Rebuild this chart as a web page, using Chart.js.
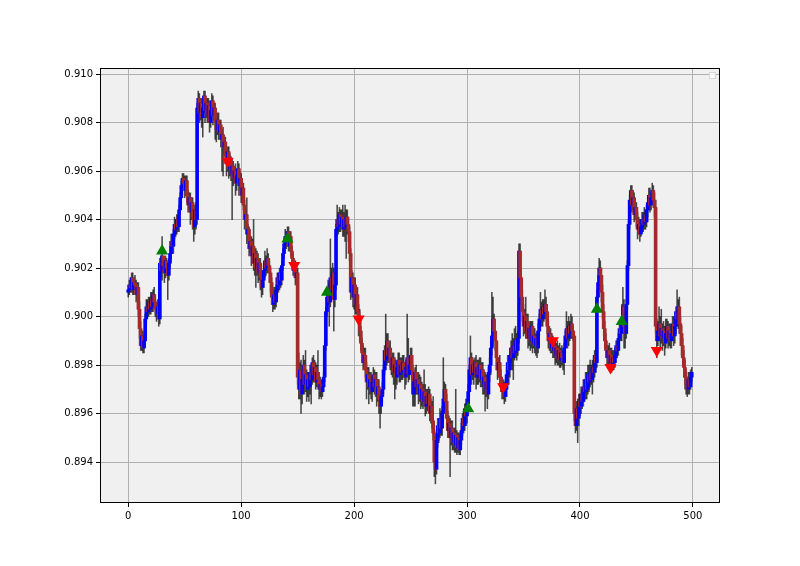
<!DOCTYPE html>
<html>
<head>
<meta charset="utf-8">
<script src="https://cdn.jsdelivr.net/npm/chart.js@4.4.0/dist/chart.umd.min.js"></script>
<style>
  html, body { margin: 0; padding: 0; background: #fff; }
  canvas { display: block; }
</style>
</head>
<body>
<canvas id="candleChart" width="800" height="566"></canvas>
<script>
// close of every bar (bar i opens at the close of bar i-1)
const closes = [
  .9011,.9013,.9012,.9016,.9011,.9014,.9013,.9009,.9012,.9003,
  .8995,.8988,.8992,.8987,.8990,.8999,.9004,.9002,.9006,.9003,
  .9007,.9004,.9009,.9006,.9003,.9001,.9004,.8999,.9022,.9019,
  .9025,.9021,.9018,.9023,.9020,.9017,.9022,.9026,.9031,.9029,
  .9034,.9038,.9036,.9040,.9037,.9044,.9049,.9054,.9057,.9055,
  .9052,.9056,.9050,.9046,.9049,.9043,.9047,.9041,.9037,.9044,
  .9040,.9086,.9090,.9084,.9088,.9082,.9086,.9091,.9085,.9088,
  .9083,.9087,.9080,.9085,.9089,.9083,.9086,.9080,.9077,.9081,
  .9076,.9079,.9073,.9075,.9070,.9072,.9066,.9063,.9068,.9061,
  .9064,.9059,.9062,.9057,.9060,.9055,.9058,.9061,.9054,.9057,
  .9050,.9053,.9046,.9040,.9042,.9034,.9036,.9028,.9031,.9025,
  .9029,.9022,.9026,.9020,.9024,.9018,.9022,.9016,.9012,.9015,
  .9019,.9023,.9020,.9024,.9021,.9018,.9014,.9008,.9005,.9009,
  .9006,.9011,.9016,.9013,.9018,.9015,.9021,.9026,.9030,.9033,
  .9031,.9035,.9029,.9033,.9027,.9024,.9019,.9021,.9016,.9018,
  .8975,.8970,.8978,.8968,.8974,.8980,.8972,.8976,.8970,.8974,
  .8971,.8977,.8974,.8981,.8976,.8979,.8973,.8977,.8974,.8970,
  .8972,.8969,.8971,.8975,.8988,.9002,.9008,.9012,.9006,.9016,
  .9011,.9018,.9007,.9013,.9036,.9040,.9037,.9042,.9038,.9041,
  .9036,.9040,.9037,.9041,.9038,.9035,.9026,.9010,.9016,.9008,
  .9013,.9005,.9009,.9002,.9000,.8994,.8989,.8985,.8981,.8984,
  .8978,.8973,.8976,.8971,.8974,.8969,.8973,.8976,.8971,.8974,
  .8968,.8971,.8966,.8963,.8967,.8970,.8978,.8986,.8982,.8990,
  .8984,.8987,.8981,.8979,.8983,.8977,.8980,.8975,.8979,.8982,
  .8976,.8980,.8977,.8981,.8978,.8975,.8979,.8983,.8976,.8980,
  .8984,.8978,.8968,.8973,.8977,.8971,.8974,.8968,.8972,.8966,
  .8970,.8965,.8969,.8963,.8967,.8964,.8968,.8960,.8963,.8957,
  .8952,.8940,.8937,.8949,.8955,.8952,.8958,.8954,.8960,.8966,
  .8970,.8965,.8958,.8953,.8956,.8950,.8954,.8948,.8952,.8947,
  .8951,.8946,.8950,.8945,.8949,.8953,.8958,.8955,.8962,.8959,
  .8964,.8969,.8978,.8983,.8976,.8980,.8977,.8981,.8975,.8979,
  .8976,.8980,.8974,.8978,.8972,.8975,.8970,.8973,.8968,.8977,
  .8980,.8987,.8992,.8999,.8994,.8990,.8983,.8978,.8981,.8975,
  .8972,.8969,.8971,.8967,.8970,.8976,.8981,.8978,.8984,.8987,
  .8983,.8988,.8985,.8990,.8986,.8991,.9027,.9016,.9008,.9002,
  .8996,.9000,.8994,.8998,.8991,.8995,.8990,.8996,.8989,.8992,
  .8988,.8991,.8987,.8994,.8999,.9003,.8999,.9004,.9001,.9005,
  .9002,.8996,.8990,.8993,.8987,.8990,.8986,.8988,.8984,.8987,
  .8983,.8986,.8982,.8985,.8983,.8981,.8987,.8992,.8995,.8991,
  .8996,.8993,.8997,.8994,.8992,.8960,.8955,.8962,.8958,.8965,
  .8963,.8968,.8965,.8971,.8969,.8974,.8970,.8976,.8973,.8977,
  .8974,.8979,.8977,.8984,.8981,.9008,.9014,.9020,.9017,.9010,
  .9002,.8995,.8990,.8986,.8983,.8986,.8981,.8984,.8980,.8983,
  .8981,.8984,.8988,.8986,.8991,.8995,.8993,.8999,.9004,.8996,
  .8993,.9005,.9021,.9038,.9048,.9052,.9046,.9049,.9042,.9045,
  .9040,.9036,.9038,.9034,.9037,.9040,.9038,.9042,.9039,.9044,
  .9047,.9050,.9046,.9049,.9052,.9048,.9045,.8996,.8990,.8994,
  .8997,.8992,.8995,.8991,.8994,.8989,.8993,.8996,.8991,.8994,
  .8990,.8993,.8997,.8992,.8996,.9002,.8999,.9004,.8997,.8993,
  .8988,.8983,.8979,.8975,.8972,.8970,.8974,.8971,.8975,.8977
];

const highs = [
  .9013,.9015,.9016,.9018,.9018,.9016,.9017,.9015,.9014,.9014,
  .9006,.8998,.8994,.8994,.8992,.9001,.9007,.9007,.9008,.9008,
  .9010,.9010,.9011,.9012,.9009,.9006,.9007,.9006,.9024,.9025,
  .9033,.9024,.9022,.9025,.9024,.9022,.9024,.9029,.9034,.9034,
  .9036,.9041,.9040,.9042,.9042,.9046,.9051,.9056,.9059,.9059,
  .9058,.9058,.9058,.9052,.9051,.9051,.9049,.9049,.9043,.9046,
  .9047,.9088,.9093,.9092,.9090,.9090,.9088,.9093,.9093,.9090,
  .9090,.9090,.9089,.9087,.9092,.9091,.9088,.9088,.9083,.9084,
  .9084,.9081,.9081,.9077,.9078,.9074,.9074,.9068,.9070,.9070,
  .9067,.9066,.9065,.9064,.9062,.9063,.9060,.9064,.9063,.9060,
  .9059,.9056,.9055,.9048,.9044,.9049,.9038,.9037,.9033,.9033,
  .9032,.9040,.9028,.9028,.9027,.9026,.9024,.9024,.9019,.9018,
  .9021,.9027,.9025,.9028,.9026,.9023,.9020,.9016,.9011,.9012,
  .9012,.9013,.9018,.9018,.9020,.9020,.9023,.9028,.9032,.9036,
  .9035,.9037,.9037,.9035,.9035,.9029,.9026,.9023,.9023,.9020,
  .9020,.8985,.8981,.8982,.8977,.8984,.8982,.8986,.8978,.8977,
  .8977,.8980,.8979,.8983,.8984,.8982,.8981,.8980,.8986,.8977,
  .8975,.8974,.8974,.8977,.8990,.9004,.9010,.9015,.9014,.9032,
  .9020,.9022,.9020,.9016,.9038,.9046,.9043,.9045,.9044,.9044,
  .9046,.9043,.9046,.9044,.9044,.9041,.9037,.9028,.9019,.9018,
  .9016,.9016,.9012,.9012,.9005,.9003,.8996,.8991,.8988,.8987,
  .8987,.8981,.8979,.8979,.8977,.8977,.8975,.8979,.8978,.8977,
  .8977,.8974,.8974,.8969,.8969,.8973,.8980,.8988,.9001,.8993,
  .8993,.8989,.8990,.8984,.8985,.8985,.8983,.8982,.8981,.8985,
  .8985,.8983,.8983,.8984,.8984,.8981,.8982,.9001,.8991,.8983,
  .8987,.8987,.8980,.8976,.8979,.8980,.8977,.8977,.8976,.8975,
  .8973,.8972,.8978,.8972,.8970,.8970,.8971,.8970,.8966,.8965,
  .8967,.8955,.8942,.8953,.8958,.8958,.8962,.8961,.8963,.8983,
  .8973,.8972,.8968,.8961,.8959,.8958,.8957,.8957,.8954,.8954,
  .8970,.8953,.8952,.8952,.8951,.8956,.8960,.8960,.8964,.8966,
  .8966,.8972,.8980,.8992,.8985,.8983,.8982,.8983,.8984,.8982,
  .8982,.8983,.8983,.8981,.8981,.8978,.8977,.8976,.8976,.8979,
  .8983,.8990,.9010,.9008,.9001,.8993,.8987,.8982,.8983,.8984,
  .8978,.8975,.8974,.8973,.8974,.8979,.8984,.8984,.8987,.8990,
  .8993,.8991,.8995,.8996,.8993,.8994,.9030,.9030,.9019,.9011,
  .9005,.9003,.9008,.9001,.9001,.8997,.8998,.8998,.8998,.8995,
  .8995,.8993,.8994,.8997,.9001,.9010,.9006,.9007,.9007,.9011,
  .9008,.9005,.8998,.8995,.8995,.8993,.8992,.8991,.8990,.8989,
  .8990,.8988,.8989,.8987,.8988,.8986,.8989,.8994,.9002,.8998,
  .9000,.8998,.9001,.9000,.8996,.8994,.8963,.8965,.8966,.8968,
  .8968,.8971,.8970,.8974,.8974,.8977,.8977,.8980,.8980,.8982,
  .8980,.8982,.8982,.8986,.8987,.9011,.9017,.9024,.9023,.9020,
  .9013,.9005,.8998,.8993,.8988,.8988,.8989,.8987,.8987,.8986,
  .8986,.8987,.8990,.8990,.8993,.8998,.8997,.9005,.9012,.9007,
  .8999,.9007,.9023,.9040,.9050,.9054,.9054,.9052,.9051,.9047,
  .9047,.9043,.9041,.9040,.9040,.9043,.9043,.9045,.9044,.9046,
  .9050,.9053,.9053,.9051,.9055,.9054,.9051,.9048,.8999,.8998,
  .9004,.9000,.9003,.8997,.8998,.8996,.8999,.8999,.8998,.8997,
  .8997,.8996,.9000,.9000,.8999,.9004,.9011,.9007,.9008,.9000,
  .8996,.8991,.8986,.8982,.8978,.8975,.8977,.8977,.8978,.8979
];

const lows = [
  .9008,.9009,.9010,.9010,.9009,.9009,.9011,.9006,.9007,.9000,
  .8991,.8986,.8986,.8985,.8985,.8988,.8997,.9000,.9000,.9001,
  .9001,.9002,.9002,.9004,.9000,.8998,.8999,.8996,.8997,.9016,
  .9015,.9018,.9014,.9016,.9017,.9007,.9015,.9020,.9024,.9026,
  .9026,.9032,.9033,.9034,.9035,.9035,.9042,.9047,.9052,.9052,
  .9049,.9050,.9047,.9043,.9044,.9038,.9040,.9036,.9031,.9034,
  .9036,.9038,.9084,.9080,.9081,.9078,.9074,.9084,.9080,.9082,
  .9080,.9081,.9076,.9078,.9083,.9079,.9081,.9073,.9072,.9075,
  .9073,.9074,.9070,.9060,.9058,.9067,.9063,.9058,.9060,.9057,
  .9058,.9056,.9040,.9054,.9055,.9050,.9052,.9055,.9050,.9052,
  .9047,.9048,.9044,.9036,.9038,.9030,.9031,.9025,.9026,.9021,
  .9022,.9019,.9017,.9012,.9017,.9014,.9015,.9011,.9008,.9009,
  .9012,.9016,.9017,.9018,.9018,.9014,.9010,.9005,.9002,.9003,
  .9003,.9004,.9008,.9010,.9011,.9012,.9013,.9019,.9024,.9028,
  .9028,.9029,.9027,.9027,.9025,.9021,.9017,.9017,.9013,.9014,
  .8972,.8966,.8966,.8960,.8964,.8971,.8968,.8969,.8965,.8967,
  .8965,.8968,.8964,.8972,.8973,.8973,.8970,.8971,.8971,.8966,
  .8967,.8966,.8967,.8969,.8973,.8986,.9000,.9005,.8996,.9004,
  .9008,.9009,.8994,.9004,.9011,.9033,.9034,.9035,.9035,.9036,
  .9033,.9033,.9031,.9024,.9034,.9031,.9023,.9007,.9008,.9004,
  .9003,.9001,.9001,.8998,.8992,.8990,.8986,.8981,.8978,.8979,
  .8975,.8966,.8970,.8964,.8968,.8966,.8965,.8970,.8968,.8967,
  .8963,.8965,.8960,.8954,.8960,.8965,.8968,.8976,.8978,.8980,
  .8981,.8981,.8978,.8976,.8975,.8972,.8966,.8970,.8972,.8976,
  .8973,.8973,.8974,.8974,.8975,.8970,.8972,.8976,.8973,.8974,
  .8977,.8975,.8963,.8963,.8963,.8968,.8968,.8964,.8965,.8962,
  .8963,.8962,.8963,.8959,.8960,.8961,.8962,.8957,.8956,.8954,
  .8949,.8934,.8931,.8935,.8946,.8948,.8950,.8951,.8951,.8957,
  .8963,.8962,.8954,.8950,.8950,.8934,.8947,.8945,.8945,.8944,
  .8944,.8943,.8944,.8943,.8943,.8947,.8951,.8952,.8953,.8955,
  .8956,.8961,.8967,.8975,.8972,.8974,.8972,.8975,.8970,.8972,
  .8972,.8973,.8971,.8971,.8968,.8968,.8961,.8967,.8962,.8966,
  .8973,.8976,.8984,.8988,.8990,.8986,.8978,.8974,.8975,.8972,
  .8969,.8966,.8966,.8964,.8965,.8967,.8973,.8972,.8975,.8981,
  .8978,.8974,.8982,.8983,.8982,.8984,.8989,.9013,.9005,.8998,
  .8992,.8993,.8991,.8991,.8987,.8988,.8986,.8987,.8985,.8987,
  .8985,.8984,.8983,.8985,.8992,.8996,.8996,.8996,.8998,.8999,
  .8999,.8993,.8987,.8986,.8985,.8985,.8983,.8983,.8980,.8981,
  .8980,.8980,.8979,.8979,.8980,.8978,.8976,.8985,.8990,.8987,
  .8988,.8990,.8991,.8991,.8990,.8957,.8952,.8953,.8948,.8955,
  .8959,.8960,.8962,.8963,.8965,.8966,.8966,.8968,.8969,.8971,
  .8972,.8968,.8973,.8975,.8977,.8979,.9006,.9011,.9014,.9006,
  .8999,.8992,.8987,.8983,.8980,.8980,.8978,.8979,.8977,.8978,
  .8978,.8979,.8983,.8983,.8984,.8990,.8990,.8990,.8996,.8987,
  .8987,.8991,.9003,.9019,.9036,.9046,.9043,.9044,.9039,.9040,
  .9037,.9032,.9034,.9031,.9033,.9035,.9035,.9036,.9036,.9037,
  .9041,.9044,.9043,.9044,.9047,.9045,.9041,.8993,.8983,.8988,
  .8990,.8987,.8989,.8986,.8988,.8984,.8987,.8990,.8987,.8988,
  .8987,.8987,.8990,.8988,.8989,.8993,.8996,.8995,.8993,.8988,
  .8984,.8980,.8975,.8970,.8968,.8967,.8968,.8968,.8970,.8973
];

const firstOpen = 0.9010;

// signal markers
const buyBars = [30, 141, 176, 301, 415, 437];
const buyPrices = [0.9027, 0.9032, 0.9010, 0.8962, 0.9003, 0.8998];
const sellBars = [88, 147, 204, 332, 376, 427, 468];
const sellPrices = [0.9064, 0.9021, 0.8999, 0.8971, 0.8990, 0.8979, 0.8986];

const xTicks = [0, 100, 200, 300, 400, 500];
const yTicks = [0.894, 0.896, 0.898, 0.900, 0.902, 0.904, 0.906, 0.908, 0.910];

const opens = closes.map((c, i) => (i === 0 ? firstOpen : closes[i - 1]));

const tickFont = { family: "DejaVu Sans", size: 10 };

const frame = {
    id: "frame",
    beforeDraw(chart) {
        const { ctx, chartArea: a } = chart;
        ctx.save();
        ctx.fillStyle = "#ffffff";
        ctx.fillRect(0, 0, chart.width, chart.height);
        ctx.fillStyle = "#f0f0f0";
        ctx.fillRect(a.left, a.top, a.right - a.left, a.bottom - a.top);
        ctx.restore();
    },
    afterDraw(chart) {
        const { ctx, chartArea: a } = chart;
        ctx.save();
        ctx.strokeStyle = "#000";
        ctx.lineWidth = 1;
        ctx.strokeRect(a.left + 0.5, a.top + 0.5, a.right - a.left - 1, a.bottom - a.top - 1);
        // empty legend box, top right
        ctx.fillStyle = "rgba(255,255,255,0.8)";
        ctx.strokeStyle = "#d6d6d6";
        ctx.fillRect(a.right - 11, a.top + 4, 7, 7);
        ctx.strokeRect(a.right - 10.5, a.top + 4.5, 6, 6);
        ctx.restore();
    },
};

new Chart(document.getElementById("candleChart"), {
    type: "bar",
    data: {
        datasets: [
            {
                type: "scatter",
                data: buyBars.map((b, i) => ({ x: b, y: buyPrices[i] })),
                pointStyle: "triangle",
                pointRadius: 7,
                backgroundColor: "#008000",
                borderWidth: 0,
                order: 0,
            },
            {
                type: "scatter",
                data: sellBars.map((b, i) => ({ x: b, y: sellPrices[i] })),
                pointStyle: "triangle",
                rotation: 180,
                pointRadius: 7,
                backgroundColor: "#ff0000",
                borderWidth: 0,
                order: 0,
            },
            {
                data: closes.map((c, i) => ({ x: i, y: [opens[i], c] })),
                backgroundColor: closes.map((c, i) => (c > opens[i] ? "#0000ff" : "#a52a2a")),
                barThickness: 3,
                grouped: false,
                borderWidth: 0,
                order: 1,
            },
            {
                data: closes.map((c, i) => ({ x: i, y: [lows[i], highs[i]] })),
                backgroundColor: "rgba(0,0,0,0.7)",
                barThickness: 0.9,
                grouped: false,
                borderWidth: 0,
                order: 2,
            },
        ],
    },
    options: {
        responsive: false,
        animation: false,
        events: [],
        layout: { padding: { left: 0, right: 80, top: 68, bottom: 0 } },
        plugins: {
            legend: { display: false },
            tooltip: { enabled: false },
        },
        scales: {
            x: {
                type: "linear",
                min: -25,
                max: 524,
                offset: false,
                afterBuildTicks: (s) => { s.ticks = xTicks.map((v) => ({ value: v })); },
                afterFit: (s) => { s.height = 63; },
                grid: { offset: false, color: "#b0b0b0", lineWidth: 1, tickColor: "#000", tickLength: 4 },
                border: { display: false },
                ticks: { font: tickFont, color: "#000", padding: 3, maxRotation: 0 },
            },
            y: {
                type: "linear",
                min: 0.89231,
                max: 0.91025,
                afterBuildTicks: (s) => { s.ticks = yTicks.map((v) => ({ value: v })); },
                afterFit: (s) => { s.width = 100; },
                grid: { color: "#b0b0b0", lineWidth: 1, tickColor: "#000", tickLength: 4 },
                border: { display: false },
                ticks: {
                    font: tickFont,
                    color: "#000",
                    padding: 3,
                    callback: (v) => v.toFixed(3),
                },
            },
        },
    },
    plugins: [frame],
});
</script>
</body>
</html>
